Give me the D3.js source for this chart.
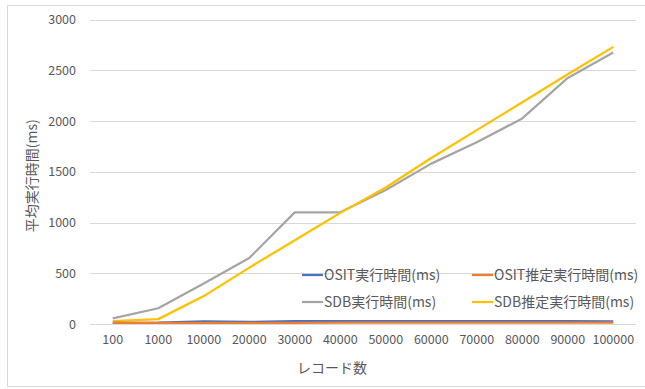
<!DOCTYPE html>
<html>
<head>
<meta charset="utf-8">
<script src="https://cdn.jsdelivr.net/npm/d3@7"></script>
<style>
  html, body { margin: 0; padding: 0; background: #fff; }
  svg text { font-family: "Noto Sans CJK JP", "Noto Sans", sans-serif; fill: #595959; }
</style>
</head>
<body>
<svg id="chart" width="645" height="389"></svg>
<script>
// Record counts on the x axis
const categories = ["100", "1000", "10000", "20000", "30000", "40000", "50000", "60000", "70000", "80000", "90000", "100000"];

// Average execution time (ms) per series
const ositActual   = [12, 14, 26, 20, 28, 29, 29, 29, 29, 29, 28, 27];
const ositEstimate = [10, 11, 12, 12, 12, 13, 13, 13, 13, 13, 13, 13];
const sdbActual    = [56, 155, 400, 650, 1100, 1100, 1320, 1580, 1790, 2025, 2424, 2675];
const sdbEstimate  = [28, 48, 275, 555, 825, 1095, 1345, 1635, 1910, 2185, 2460, 2730];

const yTicks = [0, 500, 1000, 1500, 2000, 2500, 3000];

const seriesNames  = ["OSIT実行時間(ms)", "OSIT推定実行時間(ms)", "SDB実行時間(ms)", "SDB推定実行時間(ms)"];
const seriesValues = [ositActual, ositEstimate, sdbActual, sdbEstimate];
const seriesColors = ["#4472C4", "#ED7D31", "#A5A5A5", "#FFC000"];

const svg = d3.select("#chart");

// Chart frame
svg.append("rect")
  .attr("x", 7.5).attr("y", 5.5)
  .attr("width", 660).attr("height", 381)
  .attr("fill", "#fff").attr("stroke", "#D9D9D9").attr("stroke-width", 1);

const plot = { left: 90, right: 636, top: 19.5, bottom: 324 };

const x = d3.scaleBand().domain(categories).range([plot.left, plot.right]);
const y = d3.scaleLinear().domain([0, 3000]).range([plot.bottom, plot.top]);

// Horizontal gridlines
svg.append("g")
  .selectAll("line")
  .data(yTicks)
  .join("line")
  .attr("x1", plot.left).attr("x2", plot.right)
  .attr("y1", d => Math.round(y(d)) + 0.5).attr("y2", d => Math.round(y(d)) + 0.5)
  .attr("stroke", "#D9D9D9").attr("stroke-width", 1);

// Y axis labels
const yAxis = svg.append("g")
  .attr("transform", `translate(${plot.left},0)`)
  .call(d3.axisLeft(y).tickValues(yTicks).tickFormat(d3.format("d")).tickSize(0).tickPadding(14));
yAxis.select(".domain").remove();
yAxis.selectAll("text")
  .attr("font-size", "12.5px")
  .style("font-family", "'Noto Sans CJK JP', 'Noto Sans', sans-serif")
  .attr("fill", "#595959");

// X axis labels
const xAxis = svg.append("g")
  .attr("transform", `translate(0,${plot.bottom})`)
  .call(d3.axisBottom(x).tickSize(0).tickPadding(11));
xAxis.select(".domain").remove();
xAxis.selectAll("text")
  .attr("font-size", "12.5px")
  .style("font-family", "'Noto Sans CJK JP', 'Noto Sans', sans-serif")
  .attr("fill", "#595959");

// Axis titles
svg.append("text")
  .attr("x", 332)
  .attr("y", 373)
  .attr("text-anchor", "middle")
  .attr("font-size", "14px")
  .text("レコード数");

svg.append("text")
  .attr("transform", `translate(37,${(plot.top + plot.bottom) / 2 + 4}) rotate(-90)`)
  .attr("text-anchor", "middle")
  .attr("font-size", "14px")
  .text("平均実行時間(ms)");

// Series lines
const line = d3.line()
  .x((d, i) => x(categories[i]) + x.bandwidth() / 2)
  .y(d => y(d));

const drawOrder = [2, 3, 0, 1];
svg.append("g")
  .selectAll("path")
  .data(drawOrder)
  .join("path")
  .attr("d", i => line(seriesValues[i]))
  .attr("fill", "none")
  .attr("stroke", i => seriesColors[i])
  .attr("stroke-width", 2.25)
  .attr("stroke-linejoin", "round");

// Legend (two columns, two rows)
const legendPos = [
  { x: 302, y: 275 },
  { x: 472, y: 275 },
  { x: 302, y: 302 },
  { x: 472, y: 302 }
];
const legend = svg.append("g")
  .selectAll("g")
  .data(seriesNames)
  .join("g")
  .attr("transform", (d, i) => `translate(${legendPos[i].x},${legendPos[i].y})`);

legend.append("line")
  .attr("x1", 0).attr("x2", 21)
  .attr("y1", 0).attr("y2", 0)
  .attr("stroke", (d, i) => seriesColors[i])
  .attr("stroke-width", 2.25);

legend.append("text")
  .attr("x", 22)
  .attr("y", 5)
  .attr("font-size", "14px")
  .text(d => d);
</script>
</body>
</html>
